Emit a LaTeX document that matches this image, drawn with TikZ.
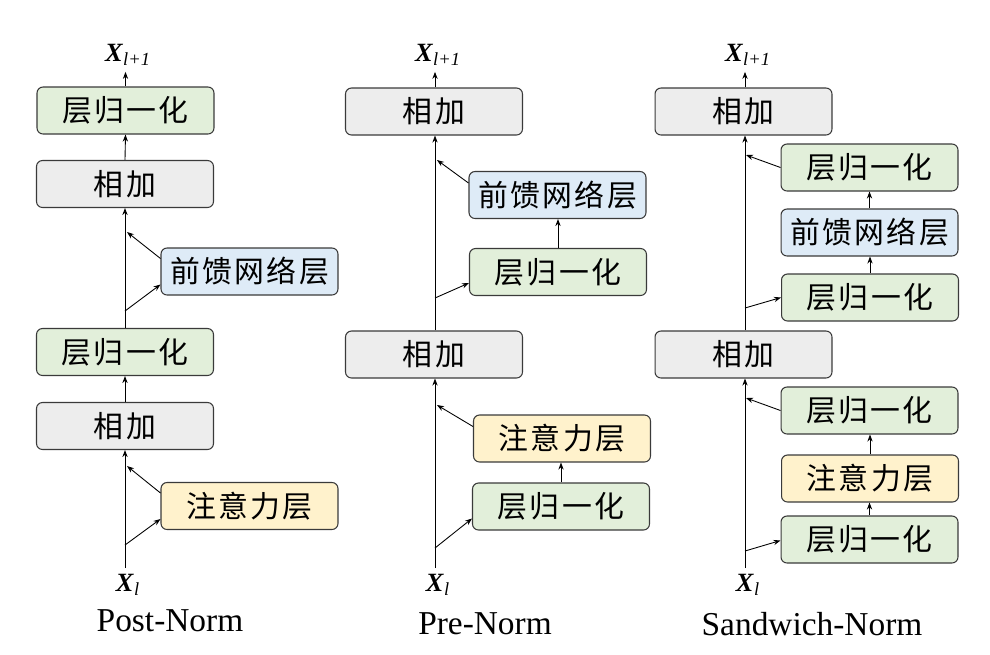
\documentclass[tikz,border=0pt]{standalone}
\usepackage{fontspec}
\setmainfont{Liberation Serif}
\newfontfamily\cjk{Noto Sans CJK SC}[LetterSpace=8]
\usetikzlibrary{positioning,calc,arrows.meta}

\begin{document}
\begin{tikzpicture}[x=0.02cm,y=-0.02cm]
      \definecolor{normgreen}{HTML}{E2EFDA}
      \definecolor{addgray}{HTML}{EDEDED}
      \definecolor{ffnblue}{HTML}{DEEBF7}
      \definecolor{attnyellow}{HTML}{FFF2CC}
      \definecolor{edgegray}{HTML}{3A3A3A}

      \newcommand{\boxname}[1]{\fontsize{17}{20}\selectfont\cjk #1}
      \newcommand{\xvar}[1]{\fontsize{15}{18}\selectfont\textbf{\textit{X}}\textsubscript{\textit{#1}}}
      \newcommand{\capname}[1]{\fontsize{19}{22}\selectfont #1}

      \tikzstyle{block}     = [rectangle, rounded corners=0.12cm, draw=edgegray, line width=0.6pt, minimum width=3.54cm, minimum height=0.94cm, inner sep=0pt]
      \tikzstyle{connector} = [line width=0.5pt, -{Stealth[length=4pt,width=3pt]}]

      \useasboundingbox (0,0) rectangle (990,654);

      % Post-Norm
      \node [block, fill=normgreen ] (postnormtop) at (125.5,110.5) {\boxname{层归一化}};
      \node [block, fill=addgray   ] (postaddtop)  at (125,184)     {\boxname{相加}};
      \node [block, fill=ffnblue   ] (postffn)     at (249.5,271.5) {\boxname{前馈网络层}};
      \node [block, fill=normgreen ] (postnormbot) at (125,352)     {\boxname{层归一化}};
      \node [block, fill=addgray   ] (postaddbot)  at (125,426)     {\boxname{相加}};
      \node [block, fill=attnyellow] (postattn)    at (249.5,506)   {\boxname{注意力层}};
      \node (postin)  at (128,585) {\xvar{l}};
      \node (postout) at (128,55)  {\xvar{l+1}};
      \node (postcap) at (170,621) {\capname{Post-Norm}};

      \coordinate (postsplitattn) at (125,545);
      \coordinate (postjoinattn)  at (127,466);
      \coordinate (postsplitffn)  at (125,311);
      \coordinate (postjoinffn)   at (127,232);

      \draw [connector] (postaddbot.south |- postin.north) -- (postaddbot.south);
      \draw [connector] (postsplitattn) -- ($(postattn.west)+(0,13)$);
      \draw [connector] ($(postattn.west)+(0,-13)$) -- (postjoinattn);
      \draw [connector] (postaddbot.north) -- (postnormbot.south);
      \draw [connector] (postnormbot.north) -- (postaddtop.south);
      \draw [connector] (postsplitffn) -- ($(postffn.west)+(0,13)$);
      \draw [connector] ($(postffn.west)+(0,-13)$) -- (postjoinffn);
      \draw [connector] (postaddtop.north) -- (postnormtop.south);
      \draw [connector] (postnormtop.north) -- (postnormtop.north |- postout.south);

      % Pre-Norm
      \node [block, fill=addgray   ] (preaddtop)  at (434,111.5) {\boxname{相加}};
      \node [block, fill=ffnblue   ] (preffn)     at (557.5,195) {\boxname{前馈网络层}};
      \node [block, fill=normgreen ] (prenormtop) at (558,272)   {\boxname{层归一化}};
      \node [block, fill=addgray   ] (preaddbot)  at (434,354.5) {\boxname{相加}};
      \node [block, fill=attnyellow] (preattn)    at (562,438.5) {\boxname{注意力层}};
      \node [block, fill=normgreen ] (prenormbot) at (561,506.5) {\boxname{层归一化}};
      \node (prein)  at (438,585) {\xvar{l}};
      \node (preout) at (438,55)  {\xvar{l+1}};
      \node (precap) at (485,624) {\capname{Pre-Norm}};

      \coordinate (presplitattn) at (435,548);
      \coordinate (prejoinattn)  at (437,405);
      \coordinate (presplitffn)  at (435,298);
      \coordinate (prejoinffn)   at (437,160);

      \draw [connector] (435,0 |- prein.north) -- (435,0 |- preaddbot.south);
      \draw [connector] (presplitattn) -- ($(prenormbot.west)+(0,12)$);
      \draw [connector] (prenormbot.north) -- (prenormbot.north |- preattn.south);
      \draw [connector] ($(preattn.west)+(0,-12)$) -- (prejoinattn);
      \draw [connector] (435,0 |- preaddbot.north) -- (435,0 |- preaddtop.south);
      \draw [connector] (presplitffn) -- ($(prenormtop.west)+(0,11)$);
      \draw [connector] (prenormtop.north) -- (prenormtop.north |- preffn.south);
      \draw [connector] ($(preffn.west)+(0,-12)$) -- (prejoinffn);
      \draw [connector] (435,0 |- preaddtop.north) -- (435,0 |- preout.south);

      % Sandwich-Norm
      \node [block, fill=addgray   ] (sandaddtop)      at (743.5,111.5) {\boxname{相加}};
      \node [block, fill=normgreen ] (sandpostnormtop) at (869.5,167.5) {\boxname{层归一化}};
      \node [block, fill=ffnblue   ] (sandffn)         at (869.5,232.5) {\boxname{前馈网络层}};
      \node [block, fill=normgreen ] (sandprenormtop)  at (870,297.5)   {\boxname{层归一化}};
      \node [block, fill=addgray   ] (sandaddbot)      at (743.5,354.5) {\boxname{相加}};
      \node [block, fill=normgreen ] (sandpostnormbot) at (869.5,410.5) {\boxname{层归一化}};
      \node [block, fill=attnyellow] (sandattn)        at (870,478.5)   {\boxname{注意力层}};
      \node [block, fill=normgreen ] (sandprenormbot)  at (869.5,539.5) {\boxname{层归一化}};
      \node (sandin)  at (748,585) {\xvar{l}};
      \node (sandout) at (748,55)  {\xvar{l+1}};
      \node (sandcap) at (812,624) {\capname{Sandwich-Norm}};

      \coordinate (sandsplitattn) at (745,551);
      \coordinate (sandjoinattn)  at (746,398);
      \coordinate (sandsplitffn)  at (745,308);
      \coordinate (sandjoinffn)   at (746,155);

      \draw [connector] (745,0 |- sandin.north) -- (745,0 |- sandaddbot.south);
      \draw [connector] (sandsplitattn) -- ($(sandprenormbot.west)+(0,1)$);
      \draw [connector] (sandprenormbot.north) -- (sandprenormbot.north |- sandattn.south);
      \draw [connector] (sandattn.north) -- (sandattn.north |- sandpostnormbot.south);
      \draw [connector] (sandpostnormbot.west) -- (sandjoinattn);
      \draw [connector] (745,0 |- sandaddbot.north) -- (745,0 |- sandaddtop.south);
      \draw [connector] (sandsplitffn) -- (sandprenormtop.west);
      \draw [connector] (sandprenormtop.north) -- (sandprenormtop.north |- sandffn.south);
      \draw [connector] (sandffn.north) -- (sandffn.north |- sandpostnormtop.south);
      \draw [connector] (sandpostnormtop.west) -- (sandjoinffn);
      \draw [connector] (745,0 |- sandaddtop.north) -- (745,0 |- sandout.south);
\end{tikzpicture}
\end{document}
